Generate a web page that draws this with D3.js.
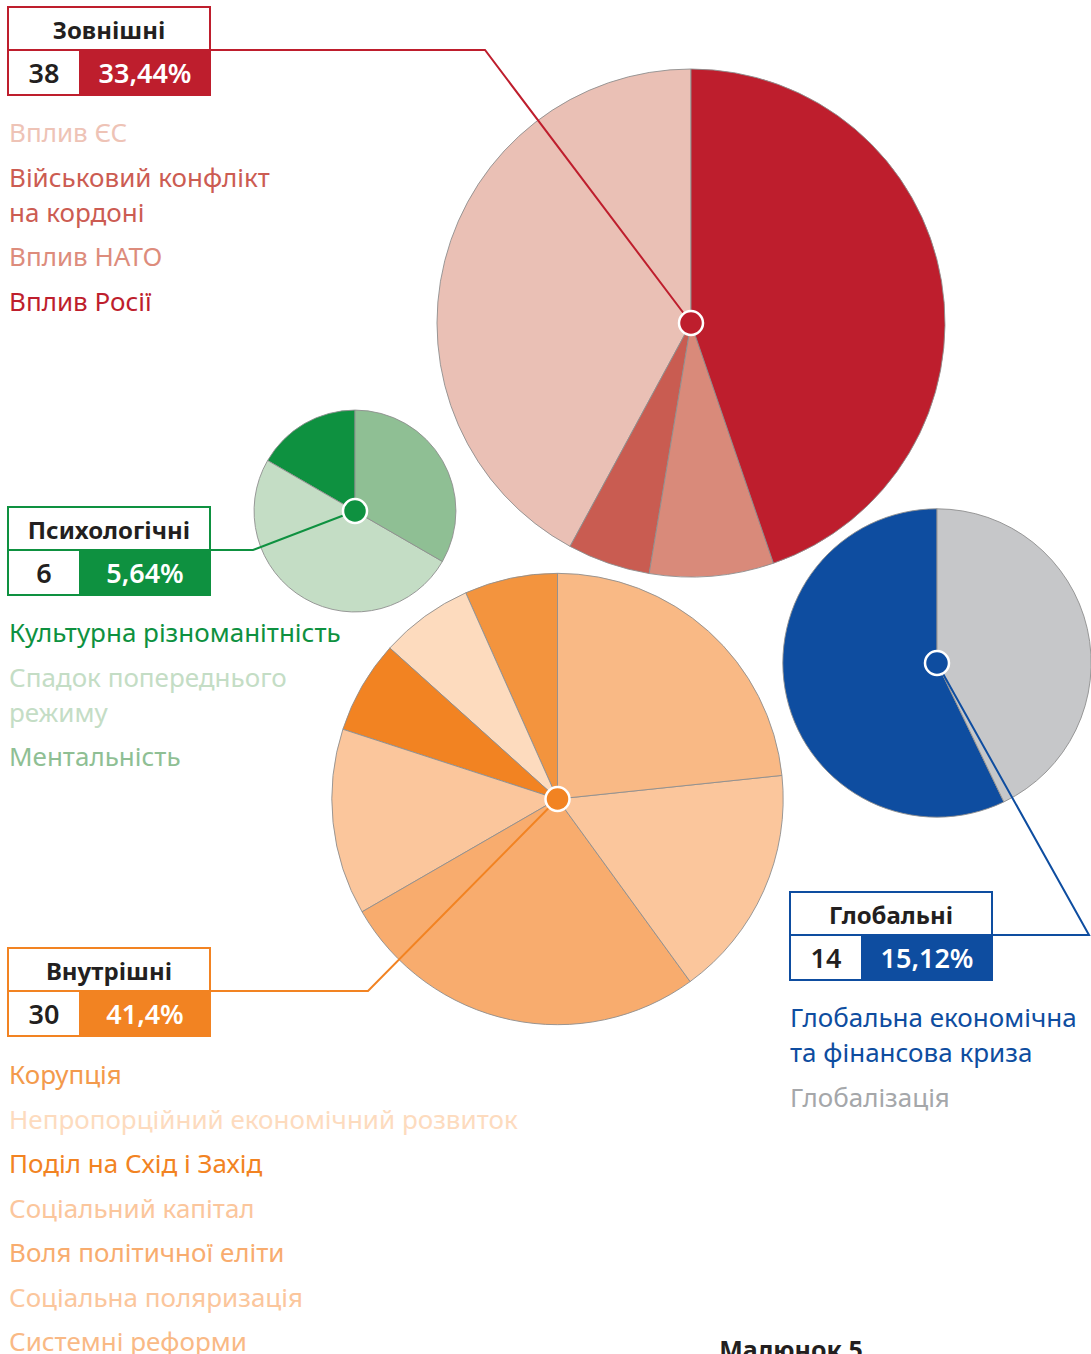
<!DOCTYPE html>
<html>
<head>
<meta charset="utf-8">
<script src="https://cdn.jsdelivr.net/npm/d3@7"></script>
<style>
  body { margin: 0; background: #fff; }
  svg { display: block; font-family: "Noto Sans", "Open Sans", sans-serif; }
</style>
</head>
<body>
<svg id="chart" width="1091" height="1354"></svg>
<script>
// group totals
var groupNames = ["Зовнішні", "Психологічні", "Внутрішні", "Глобальні"];
var groupCounts = [38, 6, 30, 14];
var groupShares = ["33,44%", "5,64%", "41,4%", "15,12%"];

// factors inside each group (legend order, "\n" = line break)
var externalFactors = ["Вплив ЄС", "Військовий конфлікт\nна кордоні", "Вплив НАТО", "Вплив Росії"];
var externalValues = [16, 2, 3, 17];

var psychFactors = ["Культурна різноманітність", "Спадок попереднього\nрежиму", "Ментальність"];
var psychValues = [1, 3, 2];

var internalFactors = ["Корупція", "Непропорційний економічний розвиток", "Поділ на Схід і Захід",
  "Соціальний капітал", "Воля політичної еліти", "Соціальна поляризація", "Системні реформи"];
var internalValues = [2, 2, 2, 4, 8, 5, 7];

var globalFactors = ["Глобальна економічна\nта фінансова криза", "Глобалізація"];
var globalValues = [8, 6];

var caption = "Малюнок 5";

// colours and placement
var styles = [
  { main: "#be1e2d", fills: ["#eac0b5", "#c95c51", "#d98a7a", "#be1e2d"], text: ["#eec3b6", "#cc5c52", "#dd8c7c", "#be1e2d"],
    cx: 691, cy: 323, bx: 8, by: 7, elbowX: 485, lx: 9, ly: 142 },
  { main: "#0e9140", fills: ["#0e9140", "#c4ddc5", "#8fbf94"], text: ["#0e9140", "#c4ddc5", "#8fbf94"],
    cx: 355, cy: 511, bx: 8, by: 507, elbowX: 253, lx: 9, ly: 642 },
  { main: "#f28322", fills: ["#f3943e", "#fddbbe", "#f28322", "#fbc69c", "#f8ac6e", "#fbc69c", "#f9b985"],
    text: ["#f39a4c", "#fddbbe", "#f28322", "#fbc69c", "#f8ac6e", "#fbc69c", "#f9b985"],
    cx: 557.5, cy: 799, bx: 8, by: 948, elbowX: 368, lx: 9, ly: 1084 },
  { main: "#0e4da0", fills: ["#0e4da0", "#c6c7c9"], text: ["#0e4da0", "#a5a7aa"],
    cx: 937, cy: 663, bx: 790, by: 892, elbowX: 1089, lx: 790, ly: 1027 }
];

var factorSets = [externalFactors, psychFactors, internalFactors, globalFactors];
var valueSets = [externalValues, psychValues, internalValues, globalValues];

var svg = d3.select("#chart");

var rScale = d3.scaleSqrt().domain([0, d3.max(groupCounts)]).range([0, 254]);

var pie = d3.pie().sort(null).startAngle(0).endAngle(-2 * Math.PI);

var boxW = 202, boxH = 88, titleH = 43, numW = 72;

var pieLayer = svg.append("g");
var lineLayer = svg.append("g");
var dotLayer = svg.append("g");
var boxLayer = svg.append("g");
var legendLayer = svg.append("g");

groupNames.forEach(function(name, gi) {
  var st = styles[gi];
  var r = rScale(groupCounts[gi]);
  var arc = d3.arc().innerRadius(0).outerRadius(r);

  var g = pieLayer.append("g").attr("transform", "translate(" + st.cx + "," + st.cy + ")");
  g.selectAll("path")
    .data(pie(valueSets[gi]))
    .enter()
    .append("path")
    .attr("d", arc)
    .attr("fill", function(d, i) { return st.fills[i]; })
    .attr("stroke", "#8e8e8e")
    .attr("stroke-width", 0.9);

  // leader line: box edge -> elbow -> centre
  var ly = st.by + titleH;
  var startX = st.bx + boxW;
  lineLayer.append("path")
    .attr("d", d3.line()([[startX, ly], [st.elbowX, ly], [st.cx, st.cy]]))
    .attr("fill", "none")
    .attr("stroke", st.main)
    .attr("stroke-width", 2);

  dotLayer.append("circle")
    .attr("cx", st.cx)
    .attr("cy", st.cy)
    .attr("r", 12)
    .attr("fill", st.main)
    .attr("stroke", "#fff")
    .attr("stroke-width", 2.5);

  // header box
  var b = boxLayer.append("g").attr("transform", "translate(" + st.bx + "," + st.by + ")");
  b.append("rect")
    .attr("x", numW).attr("y", titleH)
    .attr("width", boxW - numW).attr("height", boxH - titleH)
    .attr("fill", st.main);
  b.append("rect")
    .attr("width", boxW).attr("height", boxH)
    .attr("fill", "none").attr("stroke", st.main).attr("stroke-width", 2);
  b.append("line")
    .attr("x1", 0).attr("x2", boxW).attr("y1", titleH).attr("y2", titleH)
    .attr("stroke", st.main).attr("stroke-width", 2);
  b.append("line")
    .attr("x1", numW).attr("x2", numW).attr("y1", titleH).attr("y2", boxH)
    .attr("stroke", st.main).attr("stroke-width", 2);

  b.append("text")
    .attr("x", boxW / 2).attr("y", 32)
    .attr("text-anchor", "middle")
    .style("font-size", "24px").style("font-weight", "bold")
    .attr("fill", "#231f20")
    .text(name);
  b.append("text")
    .attr("x", numW / 2).attr("y", titleH + 33)
    .attr("text-anchor", "middle")
    .style("font-size", "27px").style("font-weight", "600")
    .attr("fill", "#231f20")
    .text(groupCounts[gi]);
  b.append("text")
    .attr("x", numW + (boxW - numW) / 2).attr("y", titleH + 33)
    .attr("text-anchor", "middle")
    .style("font-size", "27px").style("font-weight", "600")
    .attr("fill", "#fff")
    .text(groupShares[gi]);

  // legend
  var y = st.ly;
  factorSets[gi].forEach(function(label, i) {
    var lines = label.split("\n");
    var t = legendLayer.append("text")
      .attr("x", st.lx)
      .attr("y", y)
      .attr("fill", st.text[i])
      .style("font-size", "26px");
    lines.forEach(function(ln, k) {
      t.append("tspan")
        .attr("x", st.lx)
        .attr("dy", k === 0 ? 0 : 35)
        .text(ln);
    });
    y += 44.5 + (lines.length - 1) * 35;
  });
});

svg.append("text")
  .attr("x", 791).attr("y", 1359)
  .attr("text-anchor", "middle")
  .style("font-size", "25px").style("font-weight", "bold")
  .attr("fill", "#231f20")
  .text(caption);
</script>
</body>
</html>
